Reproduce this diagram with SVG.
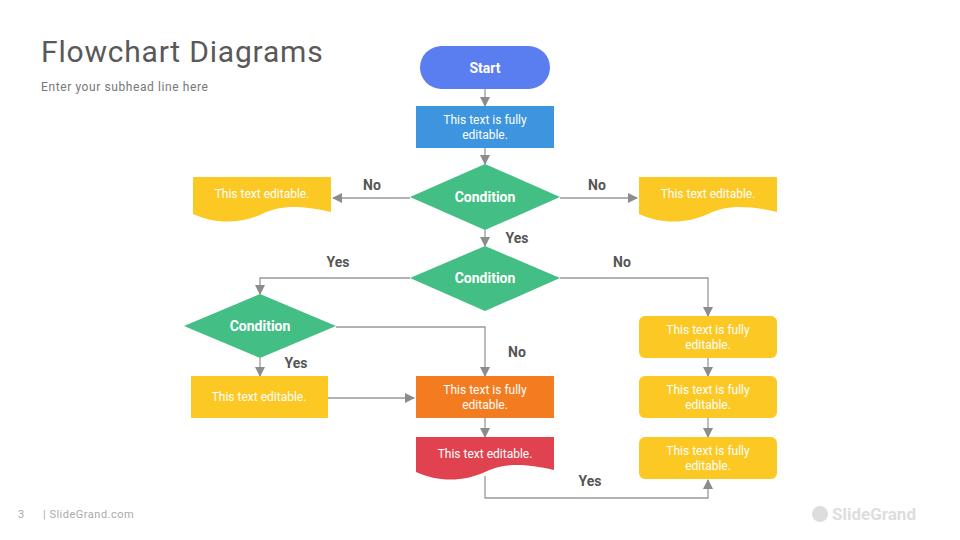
<svg xmlns="http://www.w3.org/2000/svg" width="960" height="540" viewBox="0 0 960 540">
<defs>
<marker id="ah" viewBox="0 0 10 10" refX="9" refY="5" markerWidth="10" markerHeight="10" markerUnits="userSpaceOnUse" orient="auto"><path d="M0,0L10,5L0,10z" fill="#8c8c8c"/></marker>
<style>
.c{fill:none;stroke:#999;stroke-width:1.3;marker-end:url(#ah)}
.l{fill:none;stroke:#999;stroke-width:1.3}
.t{font-family:Roboto,"Liberation Sans",sans-serif;font-size:12px;fill:#fff;text-anchor:middle}
.b{font-family:Roboto,"Liberation Sans",sans-serif;font-size:14px;font-weight:bold;fill:#fff;text-anchor:middle}
.lb{font-family:Roboto,"Liberation Sans",sans-serif;font-size:14px;font-weight:bold;fill:#555;text-anchor:middle}
.y{fill:#fcc824}
</style>
</defs>
<rect width="960" height="540" fill="#fff"/>
<text x="41" y="62" font-family="Roboto,'Liberation Sans',sans-serif" font-size="30" letter-spacing="0.8" fill="#595959">Flowchart Diagrams</text>
<text x="41" y="91" font-family="Roboto,'Liberation Sans',sans-serif" font-size="12" letter-spacing="0.6" fill="#777">Enter your subhead line here</text>
<text x="18" y="518" font-family="Roboto,'Liberation Sans',sans-serif" font-size="11" fill="#aaa">3</text>
<text x="43" y="518" font-family="Roboto,'Liberation Sans',sans-serif" font-size="11" letter-spacing="0.5" fill="#aaa">| SlideGrand.com</text>
<circle cx="820" cy="514" r="8" fill="#ddd"/>
<text x="832" y="520" font-family="Roboto,'Liberation Sans',sans-serif" font-size="17" font-weight="bold" fill="#ddd">SlideGrand</text>
<g id="connectors">
<path class="c" d="M485,89V106"/>
<path class="c" d="M485,148V164"/>
<path class="c" d="M410,198H333"/>
<path class="c" d="M560,198H637"/>
<path class="c" d="M485,230V246"/>
<path class="c" d="M410,278H260V294"/>
<path class="c" d="M560,278H708V316"/>
<path class="c" d="M260,358V376"/>
<path class="c" d="M328,398H414"/>
<path class="c" d="M336,327H485V376"/>
<path class="c" d="M485,418V437"/>
<path class="c" d="M485,476V498H708V480"/>
<path class="c" d="M708,358V376"/>
<path class="c" d="M708,418V437"/>
<text class="lb" x="372" y="190">No</text>
<text class="lb" x="597" y="190">No</text>
<text class="lb" x="517" y="243">Yes</text>
<text class="lb" x="338" y="267">Yes</text>
<text class="lb" x="622" y="267">No</text>
<text class="lb" x="296" y="368">Yes</text>
<text class="lb" x="517" y="357">No</text>
<text class="lb" x="590" y="486">Yes</text>
</g>
<g id="start"><rect x="420" y="46" width="130" height="43" rx="21.5" fill="#5a7ef0"/><text class="b" x="485" y="73">Start</text></g>
<g id="box1"><rect x="416" y="106" width="138" height="42" fill="#3d95e0"/><text class="t" x="485" y="124">This text is fully</text><text class="t" x="485" y="139">editable.</text></g>
<g id="cond1"><path d="M485,164L560,197L485,230L410,197z" fill="#43be84"/><text class="b" x="485" y="202">Condition</text></g>
<g id="docL"><path d="M193,177H331V212C300,205 280,205 262,214C240,224 215,224 193,214z" class="y"/><text class="t" x="262" y="198">This text editable.</text></g>
<g id="docR"><path d="M639,177H777V212C746,205 726,205 708,214C686,224 661,224 639,214z" class="y"/><text class="t" x="708" y="198">This text editable.</text></g>
<g id="cond2"><path d="M485,246L560,278L485,311L410,278z" fill="#43be84"/><text class="b" x="485" y="283">Condition</text></g>
<g id="cond3"><path d="M260,294L336,326L260,358L184,326z" fill="#43be84"/><text class="b" x="260" y="331">Condition</text></g>
<g id="boxL"><rect x="191" y="376" width="137" height="42" class="y"/><text class="t" x="259" y="401">This text editable.</text></g>
<g id="boxO"><rect x="416" y="376" width="138" height="42" fill="#f47c20"/><text class="t" x="485" y="394">This text is fully</text><text class="t" x="485" y="409">editable.</text></g>
<g id="docRed"><path d="M416,437H554V470C523,463 503,463 485,472C463,482 438,482 416,472z" fill="#e0434f"/><text class="t" x="485" y="458">This text editable.</text></g>
<g id="r1"><rect x="639" y="316" width="138" height="42" rx="6" class="y"/><text class="t" x="708" y="334">This text is fully</text><text class="t" x="708" y="349">editable.</text></g>
<g id="r2"><rect x="639" y="376" width="138" height="42" rx="6" class="y"/><text class="t" x="708" y="394">This text is fully</text><text class="t" x="708" y="409">editable.</text></g>
<g id="r3"><rect x="639" y="437" width="138" height="42" rx="6" class="y"/><text class="t" x="708" y="455">This text is fully</text><text class="t" x="708" y="470">editable.</text></g>
</svg>
